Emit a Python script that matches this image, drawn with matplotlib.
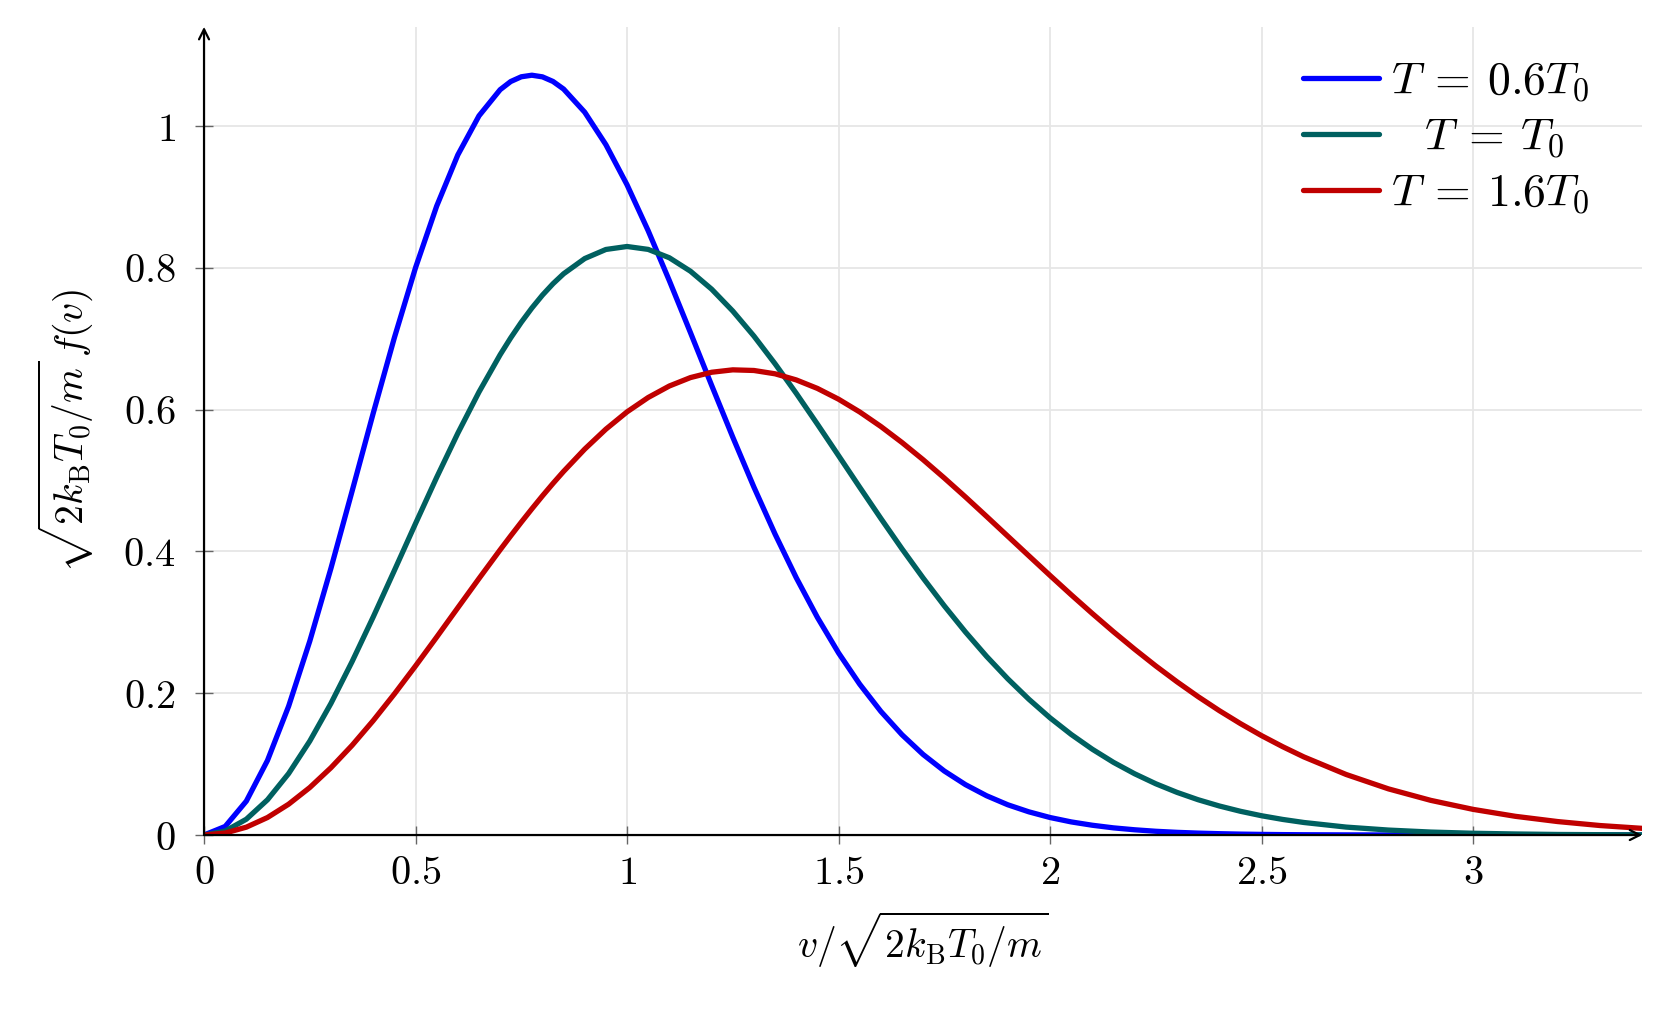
import matplotlib
matplotlib.use("Agg")
import matplotlib.pyplot as plt

plt.rcParams['mathtext.fontset'] = 'cm'
plt.rcParams['font.family'] = 'serif'
plt.rcParams['font.serif'] = ['DejaVu Serif']

# speeds v / sqrt(2 kB T0 / m)
v = [0.0, 0.05, 0.1, 0.15, 0.2, 0.25, 0.3, 0.35, 0.4, 0.45,
     0.5, 0.55, 0.6, 0.65, 0.7, 0.725, 0.75, 0.775, 0.8, 0.825, 0.85, 0.9, 0.95,
     1.0, 1.05, 1.1, 1.15, 1.2, 1.25, 1.3, 1.35, 1.4, 1.45,
     1.5, 1.55, 1.6, 1.65, 1.7, 1.75, 1.8, 1.85, 1.9, 1.95,
     2.0, 2.05, 2.1, 2.15, 2.2, 2.25, 2.3, 2.35, 2.4, 2.45,
     2.5, 2.55, 2.6, 2.7, 2.8, 2.9, 3.0, 3.1, 3.2, 3.3, 3.4]

# T = 0.6 T0
f_low = [0.0, 0.0121, 0.0478, 0.1052, 0.1817, 0.2735, 0.3762, 0.4850, 0.5951, 0.7016,
         0.8003, 0.8872, 0.9594, 1.0145, 1.0514, 1.0629, 1.0696, 1.0718, 1.0695, 1.0630, 1.0523,
         1.0196, 0.9738,
         0.9172, 0.8524, 0.7820, 0.7086, 0.6343, 0.5612, 0.4907, 0.4244, 0.3630, 0.3070,
         0.2569, 0.2128, 0.1744, 0.1415, 0.1136, 0.0903, 0.0711, 0.0554, 0.0427, 0.0327,
         0.0247, 0.0185, 0.0138, 0.0101, 0.0074, 0.0053, 0.0038, 0.0027, 0.0019, 0.0013,
         0.0009, 0.0006, 0.0004, 0.0002, 0.0001, 0.0, 0.0, 0.0, 0.0, 0.0, 0.0]

# T = T0
f_mid = [0.0, 0.0056, 0.0223, 0.0497, 0.0867, 0.1325, 0.1856, 0.2446, 0.3077, 0.3732,
         0.4394, 0.5045, 0.5668, 0.6249, 0.6775, 0.7013, 0.7233, 0.7434, 0.7616, 0.7777, 0.7917,
         0.8132, 0.8260,
         0.8302, 0.8261, 0.8143, 0.7953, 0.7700, 0.7391, 0.7038, 0.6647, 0.6231, 0.5796,
         0.5352, 0.4906, 0.4466, 0.4037, 0.3625, 0.3233, 0.2864, 0.2520, 0.2204, 0.1915,
         0.1653, 0.1419, 0.1210, 0.1025, 0.0864, 0.0723, 0.0602, 0.0498, 0.0410, 0.0335,
         0.0272, 0.0220, 0.0177, 0.0112, 0.0070, 0.0042, 0.0025, 0.0015, 0.0008, 0.0005,
         0.0003]

# T = 1.6 T0
f_high = [0.0, 0.0028, 0.0111, 0.0247, 0.0435, 0.0670, 0.0949, 0.1265, 0.1614, 0.1990,
          0.2385, 0.2792, 0.3206, 0.3618, 0.4023, 0.4220, 0.4413, 0.4601, 0.4784, 0.4960, 0.5129,
          0.5444, 0.5725,
          0.5969, 0.6172, 0.6334, 0.6453, 0.6528, 0.6562, 0.6553, 0.6506, 0.6420, 0.6300,
          0.6148, 0.5968, 0.5763, 0.5537, 0.5294, 0.5036, 0.4769, 0.4494, 0.4216, 0.3938,
          0.3661, 0.3389, 0.3124, 0.2867, 0.2621, 0.2385, 0.2162, 0.1952, 0.1755, 0.1572,
          0.1402, 0.1246, 0.1102, 0.0854, 0.0651, 0.0489, 0.0362, 0.0264, 0.0190, 0.0134,
          0.0094]

labels = [r"$T\:=\:0.6T_0$", r"$\;\;\;T\:=\:T_0$", r"$T\:=\:1.6T_0$"]
colors = ["#0000ff", "#006060", "#c00000"]

fig = plt.figure(figsize=(16.71, 10.14), dpi=100)
ax = fig.add_axes([0.1221, 0.1765, 0.8607, 0.797])

for y, lab, c in zip([f_low, f_mid, f_high], labels, colors):
    ax.plot(v, y, color=c, lw=3.8, label=lab, zorder=3, solid_capstyle='round',
            solid_joinstyle='round')

ax.set_xlim(0, 3.4)
ax.set_ylim(0, 1.14)
ax.set_xticks([0, 0.5, 1, 1.5, 2, 2.5, 3])
ax.set_xticklabels([r"$0$", r"$0.5$", r"$1$", r"$1.5$", r"$2$", r"$2.5$", r"$3$"])
ax.set_yticks([0, 0.2, 0.4, 0.6, 0.8, 1])
ax.set_yticklabels([r"$0$", r"$0.2$", r"$0.4$", r"$0.6$", r"$0.8$", r"$1$"])
ax.tick_params(direction='inout', length=13, width=1, color='#666666',
               labelsize=29, pad=14)
ax.tick_params(axis='x', pad=8)
ax.grid(True, color='#e6e6e6', lw=1.3, zorder=0)
ax.set_axisbelow(True)

for s in ax.spines.values():
    s.set_visible(False)

# axis lines with arrows
ax.annotate('', xy=(1.0, 0), xytext=(0, 0), xycoords='axes fraction',
            arrowprops=dict(arrowstyle='->', lw=1.6, color='black',
                            shrinkA=0, shrinkB=0, mutation_scale=18), zorder=4)
ax.annotate('', xy=(0, 1.0), xytext=(0, 0), xycoords='axes fraction',
            arrowprops=dict(arrowstyle='->', lw=1.6, color='black',
                            shrinkA=0, shrinkB=0, mutation_scale=18), zorder=4)

ax.set_xlabel(r"$v/\sqrt{2k_\mathrm{B}T_0/m}$", fontsize=28.5, labelpad=12.5)
ax.set_ylabel(r"$\sqrt{2k_\mathrm{B}T_0/m}\,f(v)$", fontsize=28.5, labelpad=20)

leg = ax.legend(loc='upper right', bbox_to_anchor=(0.963, 0.961), frameon=False,
                fontsize=33, handlelength=1.65, handletextpad=0.26, labelspacing=0.23,
                borderaxespad=0, borderpad=0)

fig.savefig("out.png", dpi=100)
